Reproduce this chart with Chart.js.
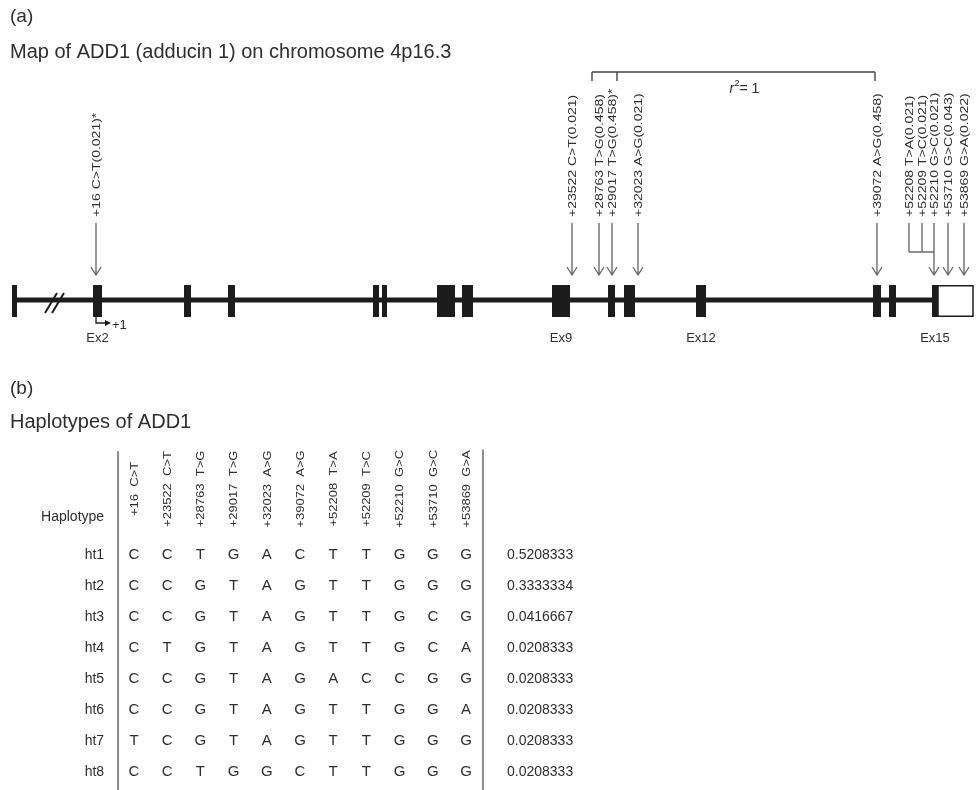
<!DOCTYPE html>
<html>
<head>
<meta charset="utf-8">
<script src="https://cdn.jsdelivr.net/npm/chart.js@4"></script>
<style>
html, body { margin: 0; padding: 0; background: #fff; }
#wrap { width: 977px; height: 790px; }
</style>
</head>
<body>
<div id="wrap"><canvas id="fig" width="977" height="790"></canvas></div>
<script>
// Exons along the gene map (map units, drawn as not to scale in the source figure)
const exonStart = [12, 93, 184, 228, 373, 382, 437, 462, 552, 608, 624, 696, 873, 889, 932];
const exonEnd   = [17, 102, 191, 235, 379, 387, 455, 473, 570, 615, 635, 706, 881, 896, 938];
const exonNames = ['', 'Ex2', '', '', '', '', '', '', 'Ex9', '', '', 'Ex12', '', '', 'Ex15'];
const utrBox = [938, 973];   // untranslated part of exon 15 (open box)

// SNPs: label, and where they hit the map
const snpLabels = [
  '+16 C>T(0.021)*', '+23522 C>T(0.021)', '+28763 T>G(0.458)', '+29017 T>G(0.458)*',
  '+32023 A>G(0.021)', '+39072 A>G(0.458)', '+52208 T>A(0.021)', '+52209 T>C(0.021)',
  '+52210 G>C(0.021)', '+53710 G>C(0.043)', '+53869 G>A(0.022)'
];
const snpPos = [96, 572, 599, 612, 638, 877, 909, 922, 934, 948, 964];
const snpJoined = [6, 7];      // these share the arrow of snp 8
const ldGroup = [2, 3, 5];     // r^2 = 1

// Haplotype table
const snpCols = ['+16 C>T', '+23522 C>T', '+28763 T>G', '+29017 T>G', '+32023 A>G', '+39072 A>G',
                 '+52208 T>A', '+52209 T>C', '+52210 G>C', '+53710 G>C', '+53869 G>A'];
const haplotypes = ['ht1', 'ht2', 'ht3', 'ht4', 'ht5', 'ht6', 'ht7', 'ht8'];
const alleles = [
  'CCTGACTTGGG',
  'CCGTAGTTGGG',
  'CCGTAGTTGCG',
  'CTGTAGTTGCA',
  'CCGTAGACCGG',
  'CCGTAGTTGGA',
  'TCGTAGTTGGG',
  'CCTGGCTTGGG'
];
const freqs = ['0.5208333', '0.3333334', '0.0416667', '0.0208333', '0.0208333', '0.0208333', '0.0208333', '0.0208333'];

// layout (map units)
const MAP_Y = 300, EXON_TOP = 285, EXON_BOT = 317;
const ARROW_TOP = 223, ARROW_TIP = 275, LABEL_BASE = 217, JOIN_Y = 252;
const BRACKET_Y = 72, BRACKET_DROP = 81;
const ldDropShift = [-7, 5, -2];

const FONT = '"Liberation Sans", Arial, sans-serif';
const INK = '#1c1c1c', TXT = '#2e2e2e', GREY = '#6b6b6b';

function arrowDown(ctx, x, y0, y1) {
  ctx.beginPath();
  ctx.moveTo(x, y0); ctx.lineTo(x, y1);
  ctx.moveTo(x - 5, y1 - 8); ctx.lineTo(x, y1); ctx.lineTo(x + 5, y1 - 8);
  ctx.stroke();
}

const geneMap = {
  id: 'geneMap',
  afterDatasetsDraw(chart) {
    const ctx = chart.ctx;
    const X = v => chart.scales.x.getPixelForValue(v);
    const Y = v => chart.scales.y.getPixelForValue(v);
    ctx.save();

    // headings
    ctx.fillStyle = TXT;
    ctx.textBaseline = 'middle';
    ctx.textAlign = 'left';
    ctx.font = '19px ' + FONT;
    ctx.fillText('(a)', 10, 17);
    ctx.font = '20px ' + FONT;
    ctx.fillText('Map of ADD1 (adducin 1) on chromosome 4p16.3', 10, 52);

    // exons
    ctx.fillStyle = INK;
    exonStart.forEach((s, i) => {
      ctx.fillRect(X(s), Y(EXON_TOP), X(exonEnd[i]) - X(s), Y(EXON_BOT) - Y(EXON_TOP));
    });
    ctx.strokeStyle = INK;
    ctx.lineWidth = 1.5;
    ctx.strokeRect(X(utrBox[0]), Y(EXON_TOP) + 0.75, X(utrBox[1]) - X(utrBox[0]), Y(EXON_BOT) - Y(EXON_TOP) - 1.5);

    // break mark on the backbone
    ctx.lineWidth = 2;
    [45, 52].forEach(b => {
      ctx.beginPath();
      ctx.moveTo(X(b), Y(313)); ctx.lineTo(X(b + 12), Y(293));
      ctx.stroke();
    });

    // transcription start (+1)
    const tss = snpPos[0];
    ctx.lineWidth = 1.3;
    ctx.beginPath();
    ctx.moveTo(X(tss), Y(EXON_BOT)); ctx.lineTo(X(tss), Y(323)); ctx.lineTo(X(tss + 11), Y(323));
    ctx.stroke();
    ctx.beginPath();
    ctx.moveTo(X(tss + 15), Y(323)); ctx.lineTo(X(tss + 9), Y(320)); ctx.lineTo(X(tss + 9), Y(326));
    ctx.closePath(); ctx.fill();
    ctx.fillStyle = TXT;
    ctx.font = '13px ' + FONT;
    ctx.textAlign = 'left';
    ctx.fillText('+1', X(tss + 16), Y(325));

    // exon names
    ctx.textAlign = 'center';
    exonNames.forEach((n, i) => {
      if (n) ctx.fillText(n, X((exonStart[i] + exonEnd[i]) / 2), Y(338));
    });

    // SNP labels (vertical, condensed)
    ctx.font = '14px ' + FONT;
    snpLabels.forEach((lab, i) => {
      ctx.save();
      ctx.translate(X(snpPos[i]), Y(LABEL_BASE));
      ctx.rotate(-Math.PI / 2);
      ctx.scale(1, 0.74);
      ctx.textAlign = 'left';
      ctx.textBaseline = 'middle';
      ctx.fillText(lab, 0, 1);
      ctx.restore();
    });

    // arrows
    ctx.strokeStyle = GREY;
    ctx.lineWidth = 1.4;
    snpPos.forEach((p, i) => {
      if (snpJoined.includes(i)) return;
      arrowDown(ctx, X(p), Y(ARROW_TOP), Y(ARROW_TIP));
    });
    const joinTo = snpPos[8];
    ctx.beginPath();
    snpJoined.forEach(i => {
      ctx.moveTo(X(snpPos[i]), Y(ARROW_TOP)); ctx.lineTo(X(snpPos[i]), Y(JOIN_Y));
    });
    ctx.moveTo(X(snpPos[snpJoined[0]]), Y(JOIN_Y)); ctx.lineTo(X(joinTo), Y(JOIN_Y));
    ctx.stroke();

    // LD bracket
    ctx.strokeStyle = '#444';
    ctx.lineWidth = 1.4;
    const dropX = ldGroup.map((i, k) => X(snpPos[i] + ldDropShift[k]));
    ctx.beginPath();
    ctx.moveTo(dropX[0], Y(BRACKET_Y));
    ctx.lineTo(dropX[dropX.length - 1], Y(BRACKET_Y));
    dropX.forEach(x => {
      ctx.moveTo(x, Y(BRACKET_Y)); ctx.lineTo(x, Y(BRACKET_DROP));
    });
    ctx.stroke();
    const rx = X((snpPos[ldGroup[1]] + snpPos[ldGroup[2]]) / 2) - 15;
    ctx.fillStyle = TXT;
    ctx.textAlign = 'left';
    ctx.font = 'italic 14px ' + FONT;
    ctx.fillText('r', rx, Y(89));
    ctx.font = '9px ' + FONT;
    ctx.fillText('2', rx + 5, Y(84));
    ctx.font = '14px ' + FONT;
    ctx.fillText('= 1', rx + 10, Y(89));

    ctx.restore();
  }
};

const haploTable = {
  id: 'haploTable',
  afterDatasetsDraw(chart) {
    const ctx = chart.ctx;
    const X = v => chart.scales.tx.getPixelForValue(v);
    const Y = v => chart.scales.ty.getPixelForValue(v);
    ctx.save();

    ctx.fillStyle = TXT;
    ctx.textBaseline = 'middle';
    ctx.textAlign = 'left';
    ctx.font = '19px ' + FONT;
    ctx.fillText('(b)', 10, 389);
    ctx.font = '20px ' + FONT;
    ctx.fillText('Haplotypes of ADD1', 10, 422);

    // frame lines
    ctx.strokeStyle = '#8a8a8a';
    ctx.lineWidth = 2;
    ctx.beginPath();
    ctx.moveTo(X(-0.48), Y(-3.35)); ctx.lineTo(X(-0.48), chart.chartArea.bottom);
    ctx.moveTo(X(snpCols.length - 0.49), Y(-3.4)); ctx.lineTo(X(snpCols.length - 0.49), chart.chartArea.bottom);
    ctx.stroke();

    // column headers
    ctx.font = '13px ' + FONT;
    snpCols.forEach((c, i) => {
      ctx.save();
      ctx.translate(X(i), Y(-2.13));
      ctx.rotate(-Math.PI / 2);
      ctx.scale(1, 0.85);
      ctx.textAlign = 'center';
      ctx.fillText(c.replace(' ', '  '), 0, 1);
      ctx.restore();
    });

    ctx.font = '14px ' + FONT;
    ctx.textAlign = 'right';
    ctx.fillText('Haplotype', X(-0.9), Y(-1.23));

    haplotypes.forEach((h, r) => {
      ctx.textAlign = 'right';
      ctx.font = '14px ' + FONT;
      ctx.fillText(h, X(-0.9), Y(r));
      ctx.textAlign = 'center';
      ctx.font = '15px ' + FONT;
      alleles[r].split('').forEach((a, c) => ctx.fillText(a, X(c), Y(r)));
      ctx.textAlign = 'left';
      ctx.font = '14px ' + FONT;
      ctx.fillText(freqs[r], X(11.235), Y(r));
    });

    ctx.restore();
  }
};

// table scales: columns are 33.2 px apart starting at 134 px, rows 31 px apart starting at 555 px
const COL_PX = 33.2, COL0 = 134, ROW_PX = 31, ROW0 = 555;

new Chart(document.getElementById('fig'), {
  type: 'line',
  data: {
    datasets: [{
      label: 'backbone',
      data: [{x: exonStart[0], y: MAP_Y}, {x: exonStart[exonStart.length - 1], y: MAP_Y}],
      borderColor: INK,
      borderWidth: 5,
      pointRadius: 0,
      xAxisID: 'x',
      yAxisID: 'y'
    }]
  },
  options: {
    responsive: false,
    animation: false,
    events: [],
    layout: { padding: 0 },
    plugins: { legend: { display: false }, tooltip: { enabled: false } },
    scales: {
      x: { type: 'linear', min: 0, max: 977, display: false },
      y: { type: 'linear', min: 0, max: 790, reverse: true, display: false },
      tx: { type: 'linear', axis: 'x', min: -COL0 / COL_PX, max: (977 - COL0) / COL_PX, display: false },
      ty: { type: 'linear', axis: 'y', min: -ROW0 / ROW_PX, max: (790 - ROW0) / ROW_PX, reverse: true, display: false }
    }
  },
  plugins: [geneMap, haploTable]
});
</script>
</body>
</html>
